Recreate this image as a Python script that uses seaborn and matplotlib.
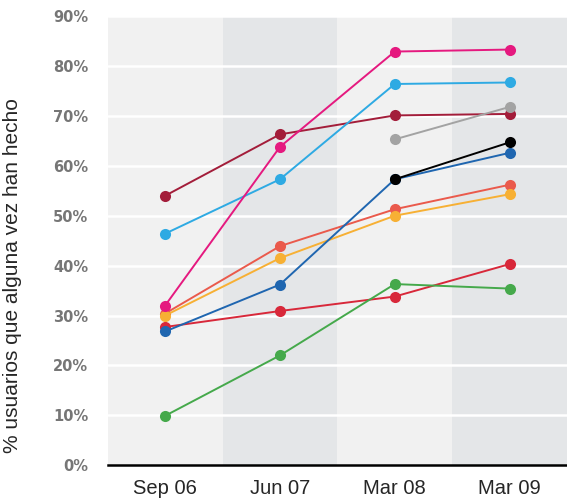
import numpy as np
import pandas as pd
import matplotlib.pyplot as plt
import seaborn as sns

periods = ["Sep 06", "Jun 07", "Mar 08", "Mar 09"]

dark_red = [54.0, 66.3, 70.1, 70.4]
light_blue = [46.4, 57.3, 76.4, 76.7]
pink = [32.0, 63.8, 82.9, 83.3]
orange_red = [30.4, 43.9, 51.3, 56.2]
orange = [30.0, 41.5, 50.0, 54.3]
red = [27.7, 30.9, 33.8, 40.3]
dark_blue = [26.8, 36.2, 57.3, 62.6]
green = [9.9, 22.0, 36.3, 35.4]
gray = [np.nan, np.nan, 65.3, 71.8]
black = [np.nan, np.nan, 57.3, 64.7]

series = {
    "dark_red": dark_red,
    "light_blue": light_blue,
    "orange_red": orange_red,
    "orange": orange,
    "red": red,
    "green": green,
    "dark_blue": dark_blue,
    "pink": pink,
    "gray": gray,
    "black": black,
}
palette = {
    "dark_red": "#a31d3a",
    "light_blue": "#2eaae3",
    "pink": "#e5197f",
    "orange_red": "#ea5a4c",
    "orange": "#f7b034",
    "red": "#d8283a",
    "dark_blue": "#1f66b0",
    "green": "#45a94b",
    "gray": "#a3a3a3",
    "black": "#000000",
}

rows = []
for name, vals in series.items():
    for i, v in enumerate(vals):
        rows.append({"serie": name, "x": i, "pct": v})
df = pd.DataFrame(rows).dropna()

sns.set_style("white")
fig = plt.figure(figsize=(5.67, 5.04), dpi=100)
ax = fig.add_axes([0.19, 0.077, 0.81, 0.891])

# alternating column bands
for i in range(len(periods)):
    ax.axvspan(i - 0.5, i + 0.5, color="#f1f1f1" if i % 2 == 0 else "#e4e6e8",
               zorder=0, lw=0)
for y in range(10, 100, 10):
    ax.axhline(y, color="white", lw=1.8, zorder=1)

sns.lineplot(data=df, x="x", y="pct", hue="serie", palette=palette,
             hue_order=list(series.keys()), marker="o", markersize=8,
             markeredgewidth=0, linewidth=1.4, legend=False, ax=ax, zorder=3)

ax.set_xlim(-0.5, 3.5)
ax.set_ylim(0, 90)
ax.set_xticks(range(len(periods)))
ax.set_xticklabels(periods, fontfamily="Liberation Sans", fontsize=14.5)
ax.set_yticks(range(0, 100, 10))
ax.set_yticklabels([f"{v}%" for v in range(0, 100, 10)], fontfamily="DejaVu Sans",
                   fontsize=10.5, fontweight="bold", color="#767676")
ax.tick_params(axis="y", length=0, pad=14)
ax.tick_params(axis="x", length=0, pad=10)
ax.set_xlabel("")
ax.set_ylabel("% usuarios que alguna vez han hecho", fontfamily="Liberation Sans",
              fontsize=15)
ax.yaxis.set_label_coords(-0.187, 0.423)
for side in ["top", "right", "left"]:
    ax.spines[side].set_visible(False)
ax.spines["bottom"].set_color("black")
ax.spines["bottom"].set_linewidth(1.8)

fig.savefig("out.png", dpi=100)
